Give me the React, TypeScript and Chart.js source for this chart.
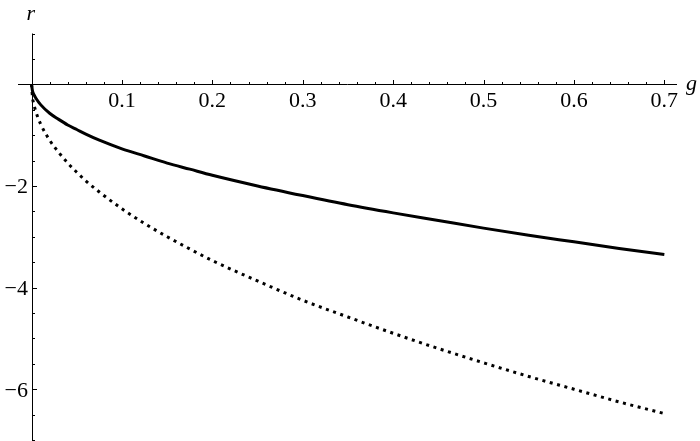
import React, { useEffect, useRef } from "react";
import { Chart, registerables } from "chart.js";

Chart.register(...registerables);

// g values sampled along the curves
const gValues = [0, 0.001, 0.0025, 0.005, 0.01, 0.02, 0.03, 0.04, 0.05, 0.06, 0.075, 0.1, 0.125, 0.15, 0.175, 0.2, 0.25, 0.3, 0.35, 0.4, 0.45, 0.5, 0.55, 0.6, 0.65, 0.7];
// solid curve r(g)
const solidR = [0, -0.13, -0.2, -0.28, -0.4, -0.57, -0.69, -0.8, -0.89, -0.98, -1.1, -1.27, -1.41, -1.55, -1.67, -1.79, -2.0, -2.19, -2.37, -2.53, -2.68, -2.83, -2.97, -3.1, -3.23, -3.35];
// dotted curve r(g)
const dottedR = [0, -0.25, -0.39, -0.55, -0.78, -1.1, -1.34, -1.55, -1.73, -1.9, -2.12, -2.45, -2.74, -3.0, -3.24, -3.47, -3.87, -4.25, -4.58, -4.9, -5.2, -5.48, -5.75, -6.0, -6.25, -6.48];

const xMajorTicks = [0.1, 0.2, 0.3, 0.4, 0.5, 0.6, 0.7];
const xTickLabels = ["0.1", "0.2", "0.3", "0.4", "0.5", "0.6", "0.7"];
const xMinorStep = 0.02;
const yMajorTicks = [-2, -4, -6];
const yTickLabels = ["\u22122", "\u22124", "\u22126"];
const yMinorStep = 0.5;
const xAxisLabel = "g";
const yAxisLabel = "r";

const X_MIN = -0.015;
const X_MAX = 0.714;
const Y_MIN = -7;
const Y_MAX = 1;

const SERIF = "'Liberation Serif', 'Times New Roman', serif";

const axesPlugin = {
  id: "mathAxes",
  beforeDatasetsDraw(chart: any) {
    const ctx = chart.ctx as CanvasRenderingContext2D;
    const xs = chart.scales.x;
    const ys = chart.scales.y;
    const area = chart.chartArea;
    const x0 = Math.round(xs.getPixelForValue(0)) + 0.5;
    const y0 = Math.round(ys.getPixelForValue(0)) + 0.5;
    ctx.save();
    ctx.strokeStyle = "#000";
    ctx.lineWidth = 1;
    // axis lines
    ctx.beginPath();
    ctx.moveTo(area.left, y0);
    ctx.lineTo(area.right, y0);
    ctx.moveTo(x0, area.top);
    ctx.lineTo(x0, area.bottom + 1);
    ctx.stroke();

    // x ticks
    ctx.beginPath();
    for (let i = 1; i * xMinorStep <= X_MAX + 1e-9; i++) {
      const v = i * xMinorStep;
      const isMajor = xMajorTicks.some((m) => Math.abs(m - v) < 1e-9);
      if (isMajor) continue;
      const px = Math.round(xs.getPixelForValue(v)) + 0.5;
      ctx.moveTo(px, y0);
      ctx.lineTo(px, y0 - 2.5);
    }
    xMajorTicks.forEach((v) => {
      const px = Math.round(xs.getPixelForValue(v)) + 0.5;
      ctx.moveTo(px, y0);
      ctx.lineTo(px, y0 - 4.5);
    });
    // y ticks
    for (let v = Y_MIN; v <= Y_MAX + 1e-9; v += yMinorStep) {
      if (Math.abs(v) < 1e-9) continue;
      const isMajor = yMajorTicks.some((m) => Math.abs(m - v) < 1e-9);
      const py = Math.round(ys.getPixelForValue(v)) + 0.5;
      ctx.moveTo(x0, py);
      ctx.lineTo(x0 + (isMajor ? 4.5 : 2.5), py);
    }
    ctx.stroke();

    // tick labels
    ctx.fillStyle = "#000";
    ctx.font = "22px " + SERIF;
    ctx.textAlign = "center";
    ctx.textBaseline = "alphabetic";
    xMajorTicks.forEach((v, i) => {
      const px = xs.getPixelForValue(v);
      ctx.fillText(xTickLabels[i], px, y0 + 22.5);
    });
    ctx.textAlign = "right";
    yMajorTicks.forEach((v, i) => {
      const py = ys.getPixelForValue(v);
      ctx.fillText(yTickLabels[i], x0 - 4.5, py + 7.5);
    });

    // axis labels
    ctx.font = "italic 22px " + SERIF;
    ctx.textAlign = "left";
    ctx.fillText(yAxisLabel, x0 - 6, area.top - 14);
    ctx.fillText(xAxisLabel, area.right + 9, y0 + 5);
    ctx.restore();
  },
};

export default function App() {
  const canvasRef = useRef<HTMLCanvasElement | null>(null);

  useEffect(() => {
    if (!canvasRef.current) return;
    const chart = new Chart(canvasRef.current, {
      type: "line",
      data: {
        datasets: [
          {
            label: "solid",
            data: gValues.map((g, i) => ({ x: g, y: solidR[i] })),
            borderColor: "#000",
            borderWidth: 3,
            pointRadius: 0,
            cubicInterpolationMode: "monotone",
            fill: false,
          },
          {
            label: "dotted",
            data: gValues.map((g, i) => ({ x: g, y: dottedR[i] })),
            borderColor: "#000",
            borderWidth: 3,
            borderDash: [3, 4.6],
            borderCapStyle: "butt",
            pointRadius: 0,
            cubicInterpolationMode: "monotone",
            fill: false,
          },
        ],
      },
      options: {
        responsive: false,
        animation: false,
        layout: { padding: { left: 18, right: 23, top: 33.5, bottom: 1 } },
        plugins: { legend: { display: false }, tooltip: { enabled: false } },
        scales: {
          x: { type: "linear", min: X_MIN, max: X_MAX, display: false },
          y: { type: "linear", min: Y_MIN, max: Y_MAX, display: false },
        },
      },
      plugins: [axesPlugin],
    } as any);
    return () => chart.destroy();
  }, []);

  return (
    <div style={{ position: "fixed", left: 0, top: 0, width: 700, height: 441, background: "#fff" }}>
      <canvas ref={canvasRef} width={700} height={441} />
    </div>
  );
}
